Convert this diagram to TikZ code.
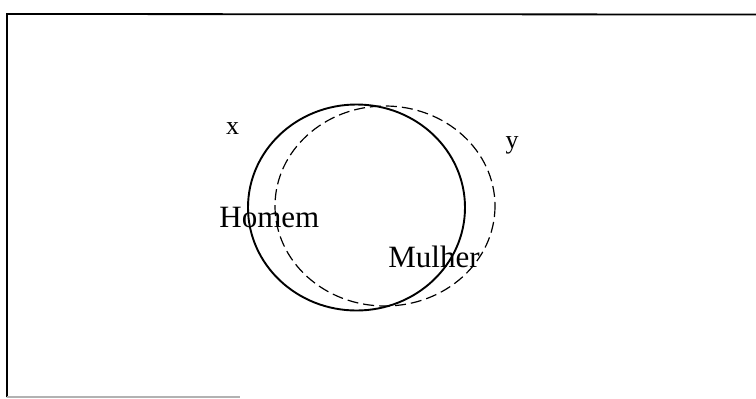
\documentclass[tikz,border=0pt]{standalone}
\usepackage{fontspec}
\setmainfont{Liberation Serif}
\usetikzlibrary{positioning}

\begin{document}
\begin{tikzpicture}[x=0.5pt, y=-0.5pt,
    setname/.style={font=\fontsize{15.5}{18}\selectfont, inner sep=0pt},
    varname/.style={font=\fontsize{13}{15}\selectfont, inner sep=0pt}]

% Layout constants (pixel units of the page)
\def\W{756}  % page width
\def\H{398}  % page height

\useasboundingbox (0,0) rectangle (\W,\H);

%% ---- frame (open on the right) -------------------------
\draw[line width=0.9pt] (\W,14.5) -- (7,14) -- (7,397);
\draw[line width=0.6pt, gray!60] (7,397) -- (240,397);

%% ---- the two sets ---------------------------------------
% Homem: solid
\draw[line width=0.95pt] (356.5,207.5) ellipse [x radius=108.5, y radius=103];
% Mulher: dashed
\draw[line width=0.6pt, dash pattern=on 5.5pt off 2.5pt]
  (385,206) ellipse [x radius=110, y radius=100];

%% ---- labels ---------------------------------------------
\node[setname, anchor=base west] (homem)  at (219,227) {Homem};
\node[setname, anchor=base west] (mulher) at (388,267) {Mulher};
\node[varname, anchor=base] (varx) at (232.5,134) {x};
\node[varname, anchor=base] (vary) at (512,148) {y};

\end{tikzpicture}
\end{document}
